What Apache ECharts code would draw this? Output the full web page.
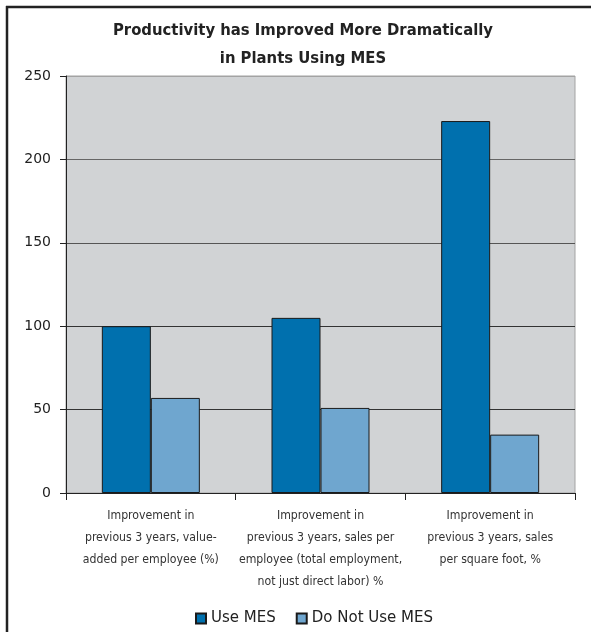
<!DOCTYPE html>
<html>
<head>
<meta charset="utf-8">
<script src="https://cdn.jsdelivr.net/npm/echarts@6/dist/echarts.min.js"></script>
<style>
html,body{margin:0;padding:0;background:#fff;}
#chart{width:591px;height:632px;}
</style>
</head>
<body>
<div id="chart"></div>
<script>
const titleLines = ['Productivity has Improved More Dramatically', 'in Plants Using MES'];
const categories = [
  'Improvement in\nprevious 3 years, value-\nadded per employee (%)',
  'Improvement in\nprevious 3 years, sales per\nemployee (total employment,\nnot just direct labor) %',
  'Improvement in\nprevious 3 years, sales\nper square foot, %'
];
const seriesNames = ['Use MES', 'Do Not Use MES'];
const useMES = [100, 105, 223];
const notUseMES = [57, 51, 35];
const yTicks = { min: 0, max: 250, interval: 50 };

const condensed = '"DejaVu Sans Condensed", "Liberation Sans Narrow", sans-serif';

const chart = echarts.init(document.getElementById('chart'), null, { renderer: 'canvas' });
chart.setOption({
  animation: false,
  backgroundColor: '#ffffff',
  title: {
    text: titleLines.join('\n'),
    left: 303,
    textAlign: 'center',
    top: 17,
    padding: 0,
    textStyle: {
      fontFamily: condensed,
      fontWeight: 'bold',
      fontSize: 16.5,
      lineHeight: 28,
      color: '#222'
    }
  },
  legend: {
    data: seriesNames,
    left: 195,
    top: 611,
    padding: 0,
    icon: 'rect',
    itemWidth: 10,
    itemHeight: 10,
    itemGap: 20,
    textStyle: {
      fontFamily: '"DejaVu Sans", sans-serif',
      fontSize: 15,
      color: '#222'
    }
  },
  grid: {
    left: 66,
    right: 16,
    top: 76,
    bottom: 139,
    show: true,
    backgroundColor: '#d1d3d5',
    borderColor: '#a3a3a3',
    borderWidth: 1,
    containLabel: false
  },
  xAxis: {
    type: 'category',
    data: categories,
    axisLine: { show: true, lineStyle: { color: '#222', width: 1 } },
    axisTick: { show: true, length: 7, lineStyle: { color: '#222' } },
    axisLabel: {
      interval: 0,
      margin: 12,
      fontFamily: condensed,
      fontSize: 12.2,
      lineHeight: 22,
      color: '#333',
      align: 'center'
    }
  },
  yAxis: {
    type: 'value',
    min: yTicks.min,
    max: yTicks.max,
    interval: yTicks.interval,
    axisLine: { show: true, lineStyle: { color: '#222', width: 1 } },
    axisTick: { show: true, length: 6, lineStyle: { color: '#222' } },
    axisLabel: {
      margin: 15,
      fontFamily: '"DejaVu Sans", sans-serif',
      fontSize: 14,
      color: '#222'
    },
    splitLine: {
      show: true,
      lineStyle: { color: ['#333', '#333', '#333', '#555', '#666', '#a3a3a3'], width: 1.2 }
    }
  },
  series: [
    {
      name: seriesNames[0],
      type: 'bar',
      data: useMES,
      barWidth: 49,
      barGap: '0%',
      itemStyle: { color: '#0070ae', borderColor: '#1a1a1a', borderWidth: 1 }
    },
    {
      name: seriesNames[1],
      type: 'bar',
      data: notUseMES,
      barWidth: 49,
      barGap: '0%',
      itemStyle: { color: '#6fa6cf', borderColor: '#1a1a1a', borderWidth: 1 }
    }
  ],
  graphic: [
    { type: 'line', shape: { x1: 7, y1: 6, x2: 7, y2: 632 }, style: { stroke: '#222', lineWidth: 2.5 } },
    { type: 'line', shape: { x1: 6, y1: 7, x2: 591, y2: 7 }, style: { stroke: '#222', lineWidth: 2.5 } }
  ]
});
</script>
</body>
</html>
